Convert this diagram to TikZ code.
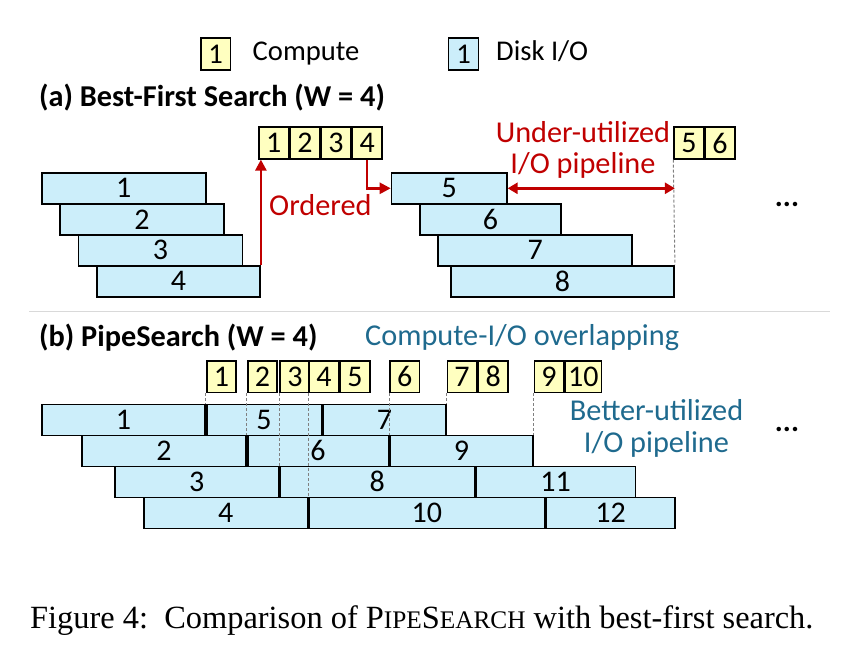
\documentclass[tikz,border=0pt]{standalone}
\usepackage{fontspec}
\setmainfont{Carlito}
\newfontfamily\capfont{Liberation Serif}
\usetikzlibrary{arrows.meta}
\definecolor{cpuyellow}{RGB}{255,255,192}
\definecolor{ioblue}{RGB}{204,238,250}
\definecolor{darkred}{RGB}{192,0,0}
\definecolor{tealblue}{RGB}{31,106,142}
\definecolor{sepgray}{RGB}{217,217,217}
\newcommand{\lbl}{\fontsize{30}{34}\selectfont}
\newcommand{\leg}{\fontsize{28.6}{32}\selectfont}
\newcommand{\note}{\fontsize{30.3}{34}\selectfont}
\newcommand{\ttl}{\fontsize{30.3}{34}\selectfont\bfseries}
\newcommand{\smc}[1]{{\fontsize{25.3}{25}\selectfont #1}}
\tikzset{
  cpu/.style={draw, line width=1.6pt, fill=cpuyellow, anchor=north west, inner sep=0pt, minimum width=29.5pt, minimum height=31.5pt, font=\lbl},
  io/.style={draw, line width=1.6pt, fill=ioblue, anchor=north west, inner sep=0pt, minimum height=31pt, font=\lbl},
  txt/.style={inner sep=0pt, font=\note},
  redarrow/.style={line width=2.5pt, darkred, -{Triangle[length=11pt,width=11pt]}},
  redboth/.style={line width=2.5pt, darkred, {Triangle[length=10pt,width=11pt]}-{Triangle[length=10pt,width=11pt]}},
  guide/.style={gray, line width=1pt, dash pattern=on 3pt off 2pt}
}
\begin{document}
\begin{tikzpicture}[x=1pt, y=-1pt]
\useasboundingbox (0,0) rectangle (868,650);

\node[cpu, font=\leg] (legc) at (200,37.5) {1};
\node[txt, font=\leg, anchor=base west] (legct) at (252.5,61) {Compute};
\node[io, font=\leg, minimum width=30pt, minimum height=31.5pt] (legd) at (447.7,37.5) {1};
\node[txt, font=\leg, anchor=base west] (legdt) at (496,61) {Disk I/O};

\node[txt, font=\ttl, anchor=base west] (ttla) at (39,107) {(a) Best-First Search (W = 4)};

\node[io, minimum width=164pt] (a1) at (41,172) {1};
\node[io, minimum width=164pt] (a2) at (59.3,203) {2};
\node[io, minimum width=164pt] (a3) at (77.7,234) {3};
\node[io, minimum width=163.3pt] (a4) at (96,265) {4};
\node[io, minimum width=115.3pt] (a5) at (390.7,172) {5};
\node[io, minimum width=141.3pt] (a6) at (419,203) {6};
\node[io, minimum width=194pt] (a7) at (437.3,234) {7};
\node[io, minimum width=223.3pt] (a8) at (450,265) {8};

\node[cpu] (ca1) at (258.3,126.5) {1};
\node[cpu] (ca2) at (ca1.north east) {2};
\node[cpu] (ca3) at (ca2.north east) {3};
\node[cpu] (ca4) at (ca3.north east) {4};
\node[cpu] (ca5) at (673.3,126.5) {5};
\node[cpu] (ca6) at (ca5.north east) {6};

\draw[guide] (ca5.south west) -- (a8.north east);
\draw[redarrow] (a4.north east) -- (a4.north east |- ca1.south);
\draw[redarrow] (ca4.south) |- (a5.west);
\draw[redboth] (a5.east) -- (a5.east -| a8.east);

\node[txt, darkred, anchor=base west] (ord) at (269,215) {Ordered};
\node[txt, darkred, anchor=base] (under1) at (583,143) {Under-utilized};
\node[txt, darkred, anchor=base] (under2) at (583,174) {I/O pipeline};
\node[txt, font=\lbl\bfseries] (dotsa) at (787,204) {...};

\draw[sepgray, line width=1pt] (29,311) -- (830,311);

\node[txt, font=\ttl, anchor=base west] (ttlb) at (39,346) {(b) PipeSearch (W = 4)};
\node[txt, tealblue, anchor=base west] (overlap) at (365,345) {Compute-I/O overlapping};

\node[io, minimum width=163.3pt] (b1) at (41,403.5) {1};
\node[io, minimum width=114.7pt] (b5) at (b1.north east) {5};
\node[io, minimum width=122.7pt] (b7) at (b5.north east) {7};
\node[io, minimum width=164.3pt] (b2) at (81,434.5) {2};
\node[io, minimum width=140.7pt] (b6) at (b2.north east) {6};
\node[io, minimum width=142.7pt] (b9) at (b6.north east) {9};
\node[io, minimum width=163.4pt] (b3) at (114.3,465.5) {3};
\node[io, minimum width=194.3pt] (b8) at (b3.north east) {8};
\node[io, minimum width=159.3pt] (b11) at (b8.north east) {11};
\node[io, minimum width=163.4pt] (b4) at (143.3,496.5) {4};
\node[io, minimum width=235.6pt] (b10) at (b4.north east) {10};
\node[io, minimum width=128.4pt] (b12) at (b10.north east) {12};

\coordinate (ctop) at (0,360);
\node[cpu] (cb1) at (b1.north east |- ctop) {1};
\node[cpu] (cb2) at (b2.north east |- ctop) {2};
\node[cpu] (cb3) at (b3.north east |- ctop) {3};
\node[cpu] (cb4) at (b4.north east |- ctop) {4};
\node[cpu] (cb5) at (cb4.north east) {5};
\node[cpu] (cb6) at (b6.north east |- ctop) {6};
\node[cpu] (cb7) at (b7.north east |- ctop) {7};
\node[cpu] (cb8) at (cb7.north east) {8};
\node[cpu] (cb9) at (b9.north east |- ctop) {9};
\node[cpu, minimum width=36pt] (cb10) at (cb9.north east) {10};

\draw[guide] (cb1.south west) -- (b1.north east);
\draw[guide] (cb2.south west) -- (b2.north east);
\draw[guide] (cb3.south west) -- (b3.north east);
\draw[guide] (cb4.south west) -- (b4.north east);
\draw[guide] (cb6.south west) -- (b6.north east);
\draw[guide] (cb7.south west) -- (b7.north east);
\draw[guide] (cb9.south west) -- (b9.north east);

\node[txt, tealblue, anchor=base] (better1) at (656.5,420) {Better-utilized};
\node[txt, tealblue, anchor=base] (better2) at (656.5,452) {I/O pipeline};
\node[txt, font=\lbl\bfseries] (dotsb) at (787,429) {...};

\node[txt, font=\capfont\fontsize{32.4}{36}\selectfont, anchor=base west] (cap) at (30,628) {Figure 4:\ \ Comparison of P\smc{IPE}S\smc{EARCH} with best-first search.};
\end{tikzpicture}
\end{document}
